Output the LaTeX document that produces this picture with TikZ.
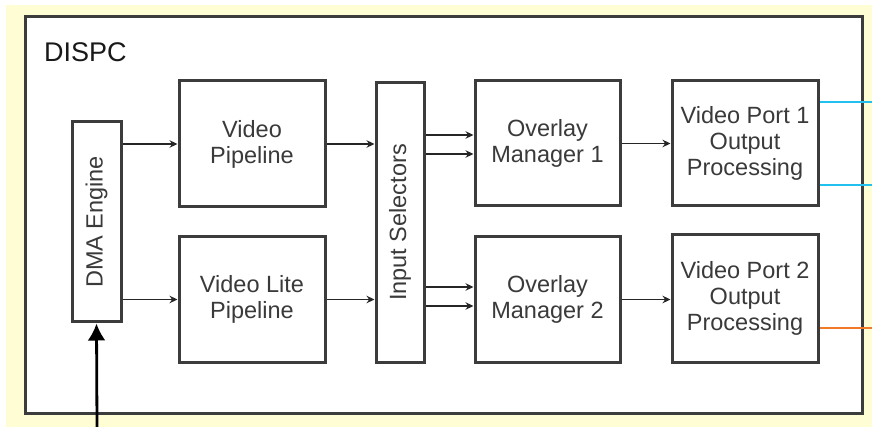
\documentclass[tikz,border=0pt]{standalone}
\usepackage{fontspec}
\setmainfont{Liberation Sans}
\usetikzlibrary{arrows.meta}
\definecolor{paper}{HTML}{FFFDD3}
\definecolor{edge}{HTML}{3C3C3C}
\definecolor{labelgray}{HTML}{3A3A3A}
\definecolor{portblue}{HTML}{22C0EE}
\definecolor{portorange}{HTML}{F07A2A}
\begin{document}
\begin{tikzpicture}[x=1pt,y=-1pt,
  block/.style={draw=edge, line width=3pt, fill=white, align=center,
    text=labelgray, inner sep=0pt,
    font=\fontsize{23.5}{26}\selectfont},
  arr/.style={draw=black!85, line width=1.9pt, -{Stealth[length=8pt,width=7.5pt]}},
  busline/.style={line width=2.6pt}]
  % page and yellow field
  \useasboundingbox (0,0) rectangle (872,427);
  \fill[white] (0,0) rectangle (872,427);
  \fill[paper] (6,5) rectangle (872,427);
  % DISPC enclosure
  \draw[edge, line width=3pt, fill=white] (25,17) rectangle (862,413);
  \node[anchor=base west, inner sep=0pt, text=black!90,
        font=\fontsize{27}{30}\selectfont] (title) at (44,62) {DISPC};

  % blocks
  \node[block, minimum width=49pt, minimum height=200pt] (dma) at (96.5,222) {};
  \node[rotate=90, text=labelgray, font=\fontsize{23.5}{26}\selectfont] (dmatext) at (dma.center) {DMA Engine};
  \node[block, minimum width=146pt, minimum height=126pt] (vp) at (252,144) {Video\\Pipeline};
  \node[block, minimum width=146pt, minimum height=125pt] (vlp) at (252,299.5) {Video Lite\\Pipeline};
  \node[block, minimum width=48pt, minimum height=279pt] (is) at (400,222.5) {};
  \node[rotate=90, text=labelgray, font=\fontsize{23.5}{26}\selectfont] (istext) at (is.center) {Input Selectors};
  \node[block, minimum width=145pt, minimum height=125pt] (om1) at (547.5,143.5) {Overlay\\Manager 1};
  \node[block, minimum width=145pt, minimum height=125pt] (om2) at (547.5,299.5) {Overlay\\Manager 2};
  \node[block, minimum width=146pt, minimum height=125pt] (vp1) at (745,143.5) {Video Port 1\\Output\\Processing};
  \node[block, minimum width=146pt, minimum height=127pt] (vp2) at (745,298.5) {Video Port 2\\Output\\Processing};

  % data paths
  \draw[arr] (dma.east |- vp.west) -- (vp.west);
  \draw[arr] (dma.east |- vlp.west) -- (vlp.west);
  \draw[arr] (vp.east) -- (vp.east -| is.west);
  \draw[arr] (vlp.east) -- (vlp.east -| is.west);
  \draw[arr] ([yshift=8.5pt]om1.west -| is.east) -- ([yshift=8.5pt]om1.west);
  \draw[arr] ([yshift=-10.5pt]om1.west -| is.east) -- ([yshift=-10.5pt]om1.west);
  \draw[arr] ([yshift=12.5pt]om2.west -| is.east) -- ([yshift=12.5pt]om2.west);
  \draw[arr] ([yshift=-6.5pt]om2.west -| is.east) -- ([yshift=-6.5pt]om2.west);
  \draw[arr] (om1.east) -- (om1.east -| vp1.west);
  \draw[arr] (om2.east) -- (om2.east -| vp2.west);

  % video port outputs
  \coordinate (out1a) at (872,102);
  \coordinate (out1b) at (872,185);
  \coordinate (out2) at (872,328);
  \draw[busline, portblue] (vp1.east |- out1a) -- (out1a);
  \draw[busline, portblue] (vp1.east |- out1b) -- (out1b);
  \draw[busline, portorange] (vp2.east |- out2) -- (out2);

  % memory access into the DMA engine
  \coordinate (mem) at (97,427);
  \draw[line width=2.8pt, black, -{Latex[length=17pt,width=18pt]}] (mem) -- (dma.south);
\end{tikzpicture}
\end{document}
